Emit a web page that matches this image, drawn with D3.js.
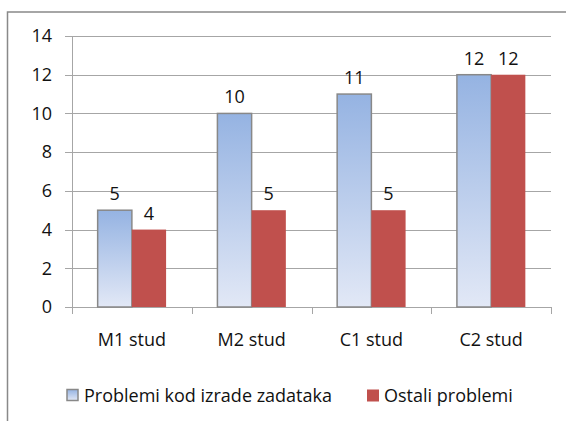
<!DOCTYPE html>
<html>
<head>
<meta charset="utf-8">
<script src="https://cdn.jsdelivr.net/npm/d3@7"></script>
<style>
  body { margin: 0; background: #fff; }
  svg { font-family: "Open Sans", sans-serif; font-weight: 400; }
</style>
</head>
<body>
<div id="chart"></div>
<script>
// chart data
const categories = ["M1 stud", "M2 stud", "C1 stud", "C2 stud"];
const seriesNames = ["Problemi kod izrade zadataka", "Ostali problemi"];
const zadaci = [5, 10, 11, 12];
const ostali = [4, 5, 5, 12];
const yTicks = [0, 2, 4, 6, 8, 10, 12, 14];

const W = 566, H = 421;
const fs = "18px";
let margin = {top: 36, right: 15, bottom: 114, left: 72},
    width = W - margin.left - margin.right,
    height = H - margin.top - margin.bottom;

let svg = d3.select("#chart").append("svg")
    .attr("width", W)
    .attr("height", H);

// gradient for the first series
let grad = svg.append("defs").append("linearGradient")
    .attr("id", "blueGrad")
    .attr("x1", 0).attr("y1", 0).attr("x2", 0).attr("y2", 1);
grad.append("stop").attr("offset", "0%").attr("stop-color", "#95b3e2");
grad.append("stop").attr("offset", "100%").attr("stop-color", "#e2e8f6");

// chart outer border (cropped on right / bottom)
svg.append("rect")
    .attr("x", 7.5).attr("y", 12)
    .attr("width", 600).attr("height", 500)
    .attr("fill", "none")
    .attr("stroke", "#898989")
    .attr("stroke-width", 1.5);

let g = svg.append("g")
    .attr("transform", "translate(" + margin.left + "," + margin.top + ")");

let x = d3.scaleBand()
    .domain(categories)
    .range([0, width])
    .paddingInner(0)
    .paddingOuter(0);

let y = d3.scaleLinear()
    .domain([0, 14])
    .range([height, 0]);

// gridlines
g.selectAll(".grid")
    .data(yTicks)
    .enter().append("line")
    .attr("x1", -7).attr("x2", width)
    .attr("y1", d => Math.round(y(d)) + 0.5)
    .attr("y2", d => Math.round(y(d)) + 0.5)
    .attr("stroke", "#a6a6a6")
    .attr("stroke-width", 1);

// y axis
let yAxis = g.append("g")
    .call(d3.axisLeft(y).tickValues(yTicks).tickSize(0).tickPadding(20));
yAxis.select(".domain").attr("stroke", "#a6a6a6").attr("d", "M0.5,0V" + height);
yAxis.selectAll("text").style("font-size", fs).style("font-family", "'Open Sans'").attr("fill", "#111");

// x axis
let xAxis = g.append("g")
    .attr("transform", "translate(0," + (Math.round(height) + 0.5) + ")")
    .call(d3.axisBottom(x).tickSize(0).tickPadding(26));
xAxis.select(".domain").remove();
xAxis.selectAll("text").style("font-size", fs).style("font-family", "'Open Sans'").attr("fill", "#111");
// category separator ticks
g.selectAll(".xtick")
    .data(d3.range(categories.length + 1))
    .enter().append("line")
    .attr("x1", i => Math.round(i * x.bandwidth()) + 0.5)
    .attr("x2", i => Math.round(i * x.bandwidth()) + 0.5)
    .attr("y1", height)
    .attr("y2", height + 7)
    .attr("stroke", "#a6a6a6");

// bars: gap width 150% => bar = band / 3.5
let barW = x.bandwidth() / 3.5;
let gap = barW * 0.75;

let rows = categories.map((c, i) => ({cat: c, a: zadaci[i], b: ostali[i]}));

g.selectAll(".barA")
    .data(rows)
    .enter().append("rect")
    .attr("x", d => x(d.cat) + gap)
    .attr("y", d => y(d.a))
    .attr("width", barW)
    .attr("height", d => height - y(d.a))
    .attr("fill", "url(#blueGrad)")
    .attr("stroke", "#888")
    .attr("stroke-width", 1.5);

g.selectAll(".barB")
    .data(rows)
    .enter().append("rect")
    .attr("x", d => x(d.cat) + gap + barW)
    .attr("y", d => y(d.b))
    .attr("width", barW)
    .attr("height", d => height - y(d.b))
    .attr("fill", "#c0504d");

// value labels
g.selectAll(".labA")
    .data(rows)
    .enter().append("text")
    .attr("x", d => x(d.cat) + gap + barW / 2)
    .attr("y", d => y(d.a) - 10)
    .attr("text-anchor", "middle")
    .attr("fill", "#111")
    .style("font-size", fs)
    .text(d => d.a);

g.selectAll(".labB")
    .data(rows)
    .enter().append("text")
    .attr("x", d => x(d.cat) + gap + barW * 1.5)
    .attr("y", d => y(d.b) - 10)
    .attr("text-anchor", "middle")
    .attr("fill", "#111")
    .style("font-size", fs)
    .text(d => d.b);

// legend
let legend = svg.append("g");
let legendX = [67, 367];
legend.append("rect")
    .attr("x", legendX[0]).attr("y", 389.5)
    .attr("width", 11).attr("height", 11)
    .attr("fill", "url(#blueGrad)")
    .attr("stroke", "#888").attr("stroke-width", 1.5);
legend.append("rect")
    .attr("x", legendX[1]).attr("y", 389.5)
    .attr("width", 12).attr("height", 12)
    .attr("fill", "#c0504d");
legend.selectAll(".legtext")
    .data(seriesNames)
    .enter().append("text")
    .attr("x", (d, i) => legendX[i] + 17)
    .attr("y", 402)
    .attr("fill", "#111")
    .style("font-size", fs)
    .text(d => d);
</script>
</body>
</html>
